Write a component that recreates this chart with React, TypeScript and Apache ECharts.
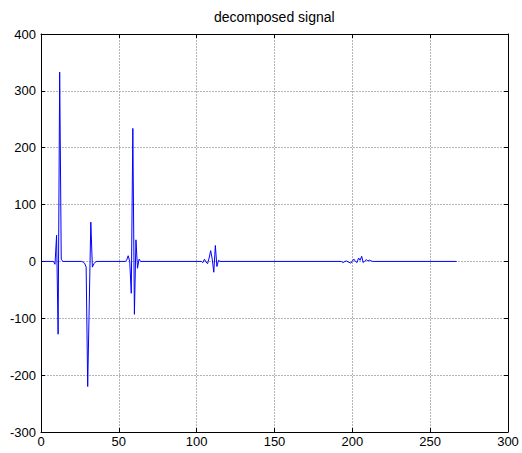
import React, { useEffect, useRef } from "react";
import * as echarts from "echarts";

// Sample index (x) and signal value (y) at the listed points; the signal is flat at 0 between them.
const sampleX: number[] = [
  1, 8, 9, 10, 11, 12, 13, 14,
  26, 27, 28, 29, 30, 31, 32, 33, 34, 35, 36,
  54, 55, 56, 57, 58, 59, 60, 61, 62, 63, 64,
  103, 104, 105, 106, 107, 108, 109, 110, 111, 112, 113, 114, 115,
  193, 194, 196, 199, 201, 202, 203, 204, 205, 206, 207, 208, 209, 210, 211, 212, 213, 214,
  267,
];
const sampleY: number[] = [
  0, 0, -5, 46, -128, 333, 4, 0,
  0, -1, -3, -10, -220, -75, 69, -10, -4, -1, 0,
  0, 2, 10, 0, -56, 234, -93, 38, -12, 4, 0,
  0, -2, 4, -1, -4, 6, 19, 4, -19, 28, -9, 2, 0,
  0, -2, 1, -3, 4, 0, -2, 6, 2, 9, -2, 1, 3, 1, 2, 1, 0, 0,
  0,
];

const xTicks = [0, 50, 100, 150, 200, 250, 300];
const yTicks = [-300, -200, -100, 0, 100, 200, 300, 400];
const titleText = "decomposed signal";

export default function App() {
  const ref = useRef<HTMLDivElement>(null);
  useEffect(() => {
    document.body.style.margin = "0";
    if (!ref.current) return;
    const chart = echarts.init(ref.current, undefined, { renderer: "svg" });
    const font = "'Liberation Sans', Arial, sans-serif";
    const data = sampleX.map((x, i) => [x, sampleY[i]]);
    const gridLine = { show: true, lineStyle: { color: "#b4b4b4", type: [2, 1] as any, width: 1 } };
    const tickIn = { show: true, inside: true, length: 4, lineStyle: { color: "#000" } };
    chart.setOption({
      animation: false,
      backgroundColor: "#fff",
      title: {
        text: titleText,
        left: 214,
        top: 10,
        padding: 0,
        textStyle: { fontFamily: font, fontSize: 14, fontWeight: "normal", color: "#000" },
      },
      grid: { left: 41, right: 14, top: 34, bottom: 21, containLabel: false },
      xAxis: [
        {
          type: "value",
          min: xTicks[0],
          max: xTicks[xTicks.length - 1],
          interval: 50,
          axisLine: { show: true, onZero: false, lineStyle: { color: "#000" } },
          axisTick: tickIn,
          splitLine: gridLine,
          axisLabel: { color: "#000", fontFamily: font, fontSize: 13, margin: 3 },
        },
        {
          type: "value",
          position: "top",
          min: xTicks[0],
          max: xTicks[xTicks.length - 1],
          interval: 50,
          axisLine: { show: true, onZero: false, lineStyle: { color: "#000" } },
          axisTick: tickIn,
          splitLine: { show: false },
          axisLabel: { show: false },
        },
      ],
      yAxis: [
        {
          type: "value",
          min: yTicks[0],
          max: yTicks[yTicks.length - 1],
          interval: 100,
          axisLine: { show: true, onZero: false, lineStyle: { color: "#000" } },
          axisTick: tickIn,
          splitLine: gridLine,
          axisLabel: { color: "#000", fontFamily: font, fontSize: 13, margin: 5 },
        },
        {
          type: "value",
          position: "right",
          min: yTicks[0],
          max: yTicks[yTicks.length - 1],
          interval: 100,
          axisLine: { show: true, onZero: false, lineStyle: { color: "#000" } },
          axisTick: tickIn,
          splitLine: { show: false },
          axisLabel: { show: false },
        },
      ],
      series: [
        {
          type: "line",
          data,
          xAxisIndex: 0,
          yAxisIndex: 0,
          showSymbol: false,
          symbol: "none",
          lineStyle: { color: "#0000ff", width: 1 },
        },
      ],
    });
    return () => chart.dispose();
  }, []);
  return <div ref={ref} style={{ width: 522, height: 453 }} />;
}
